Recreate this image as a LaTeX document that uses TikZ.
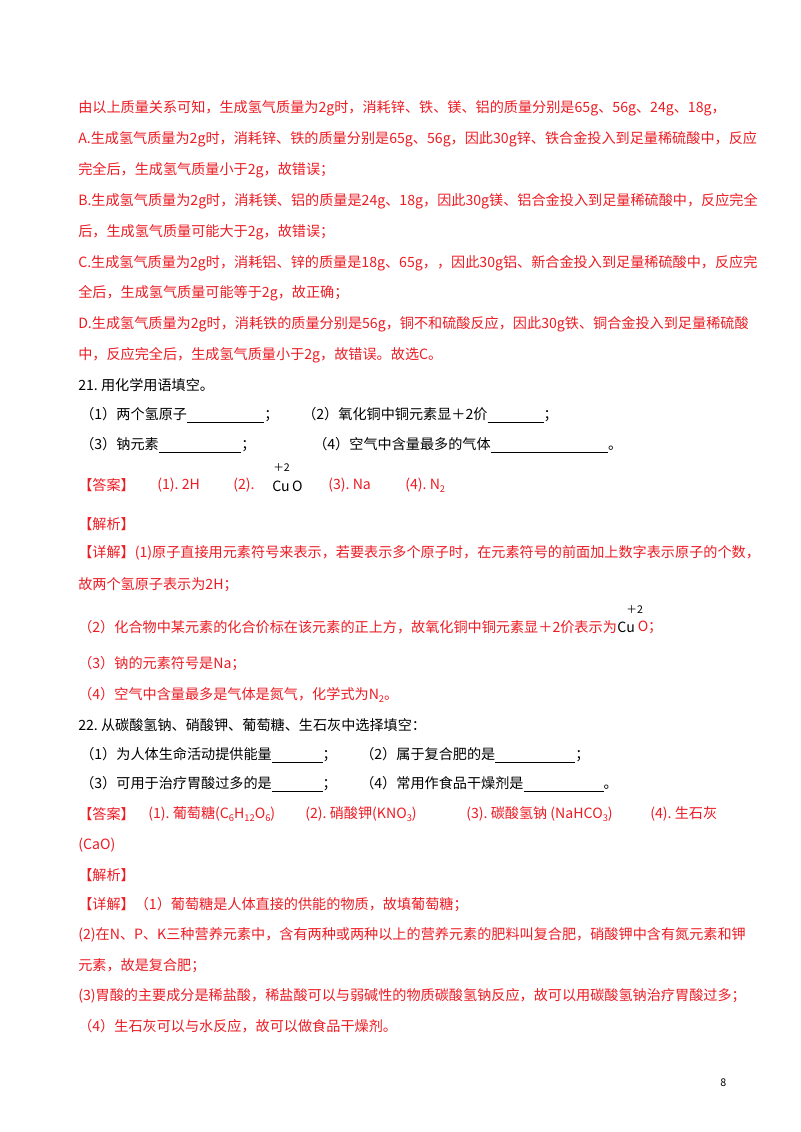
\documentclass[tikz,border=0pt]{standalone}
\usepackage{fontspec}
\setmainfont{Noto Sans CJK SC}
\definecolor{ans}{RGB}{236,28,36}
\newcommand{\sbs}[1]{\raisebox{-2pt}{\scriptsize #1}}
\newcommand{\blank}[1]{\rule[-2pt]{#1}{0.4pt}}
\begin{document}
\begin{tikzpicture}[x=0.75pt,y=-0.75pt,
  ln/.style={anchor=west,inner sep=0pt,font=\fontsize{10.6pt}{12pt}\selectfont},
  rd/.style={ln,text=ans},
  bk/.style={ln,text=black}]
\fill[white] (0,0) rectangle (800,1132);
\node[rd] (l1) at (78,108) {由以上质量关系可知，生成氢气质量为2g时，消耗锌、铁、镁、铝的质量分别是65g、56g、24g、18g，};
\node[rd] (l2) at (78,139) {A.生成氢气质量为2g时，消耗锌、铁的质量分别是65g、56g，因此30g锌、铁合金投入到足量稀硫酸中，反应};
\node[rd] (l3) at (78,170) {完全后，生成氢气质量小于2g，故错误；};
\node[rd] (l4) at (78,201) {B.生成氢气质量为2g时，消耗镁、铝的质量是24g、18g，因此30g镁、铝合金投入到足量稀硫酸中，反应完全};
\node[rd] (l5) at (78,232) {后，生成氢气质量可能大于2g，故错误；};
\node[rd] (l6) at (78,263) {C.生成氢气质量为2g时，消耗铝、锌的质量是18g、65g，，因此30g铝、新合金投入到足量稀硫酸中，反应完};
\node[rd] (l7) at (78,293) {全后，生成氢气质量可能等于2g，故正确；};
\node[rd] (l8) at (78,324) {D.生成氢气质量为2g时，消耗铁的质量分别是56g，铜不和硫酸反应，因此30g铁、铜合金投入到足量稀硫酸};
\node[rd] (l9) at (78,355) {中，反应完全后，生成氢气质量小于2g，故错误。故选C。};
\node[bk] (q21) at (78,385) {21.\ 用化学用语填空。};
\node[bk] (q21a) at (80,415) {（1）两个氢原子\blank{58pt}；};
\node[bk] (q21b) at (302,415) {（2）氧化铜中铜元素显＋2价\blank{42pt}；};
\node[bk] (q21c) at (80,445) {（3）钠元素\blank{62pt}；};
\node[bk] (q21d) at (313,445) {（4）空气中含量最多的气体\blank{88pt}。};
\node[rd] (ans1) at (78,485) {【答案】};
\node[rd] (a1) at (157,485) {(1).\ 2H};
\node[rd] (a2) at (233,485) {(2).};
\node[bk] (cu1) at (272,486) {Cu\,O};
\node[bk,font=\fontsize{8pt}{9pt}\selectfont] (v1) at (273,468) {＋2};
\node[rd] (a3) at (328,485) {(3).\ Na};
\node[rd] (a4) at (405,485) {(4).\ N\sbs{2}};
\node[rd] (jx1) at (78,524) {【解析】};
\node[rd] (xj1) at (78,553) {【详解】(1)原子直接用元素符号来表示，若要表示多个原子时，在元素符号的前面加上数字表示原子的个数，};
\node[rd] (xj2) at (78,585) {故两个氢原子表示为2H；};
\node[rd] (xj3) at (78,627) {（2）化合物中某元素的化合价标在该元素的正上方，故氧化铜中铜元素显＋2价表示为};
\node[bk] (cu2) at (xj3.east) [anchor=west] {Cu};
\node[rd] (o2) at (cu2.east) [anchor=west] {\,O；};
\node[bk,font=\fontsize{8pt}{9pt}\selectfont] (v2) at ([yshift=13pt]cu2.center) {＋2};
\node[rd] (xj4) at (78,664) {（3）钠的元素符号是Na；};
\node[rd] (xj5) at (78,695) {（4）空气中含量最多是气体是氮气，化学式为N\sbs{2}。};
\node[bk] (q22) at (78,725) {22.\ 从碳酸氢钠、硝酸钾、葡萄糖、生石灰中选择填空：};
\node[bk] (q22a) at (80,755) {（1）为人体生命活动提供能量\blank{38pt}；};
\node[bk] (q22b) at (360,755) {（2）属于复合肥的是\blank{60pt}；};
\node[bk] (q22c) at (80,784) {（3）可用于治疗胃酸过多的是\blank{38pt}；};
\node[bk] (q22d) at (360,784) {（4）常用作食品干燥剂是\blank{60pt}。};
\node[rd] (ans2) at (78,814) {【答案】};
\node[rd] (b1) at (148,814) {(1).\ 葡萄糖(C\sbs{6}H\sbs{12}O\sbs{6})};
\node[rd] (b2) at (305,814) {(2).\ 硝酸钾(KNO\sbs{3})};
\node[rd] (b3) at (466,814) {(3).\ 碳酸氢钠\ (NaHCO\sbs{3})};
\node[rd] (b4) at (650,814) {(4).\ 生石灰};
\node[rd] (b5) at (78,845) {(CaO)};
\node[rd] (jx2) at (78,875) {【解析】};
\node[rd] (y1) at (78,905) {【详解】（1）葡萄糖是人体直接的供能的物质，故填葡萄糖；};
\node[rd] (y2) at (78,935) {(2)在N、P、K三种营养元素中，含有两种或两种以上的营养元素的肥料叫复合肥，硝酸钾中含有氮元素和钾};
\node[rd] (y3) at (78,966) {元素，故是复合肥；};
\node[rd] (y4) at (78,996) {(3)胃酸的主要成分是稀盐酸，稀盐酸可以与弱碱性的物质碳酸氢钠反应，故可以用碳酸氢钠治疗胃酸过多；};
\node[rd] (y5) at (78,1026) {（4）生石灰可以与水反应，故可以做食品干燥剂。};
\node[bk,font=\fontsize{8pt}{9pt}\selectfont] (pg) at (720,1083) {8};
\end{tikzpicture}
\end{document}
